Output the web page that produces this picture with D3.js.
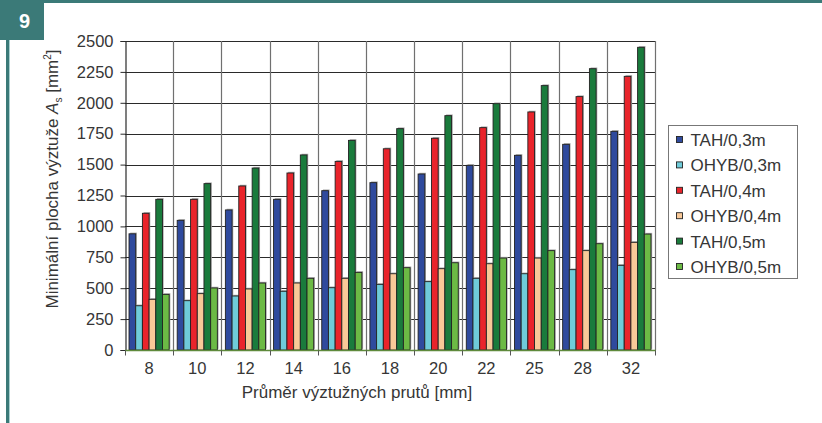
<!DOCTYPE html>
<html>
<head>
<meta charset="utf-8">
<script src="https://cdn.jsdelivr.net/npm/d3@7/dist/d3.min.js"></script>
<style>
  html, body { margin: 0; padding: 0; background: #fff; }
  svg { display: block; }
  text { font-family: "Liberation Sans", Arial, Helvetica, sans-serif; fill: #363636; }
</style>
</head>
<body>
<svg id="chart" width="822" height="423"></svg>
<script>
// Bar diameters (mm) along the x axis
const categories = ["8", "10", "12", "14", "16", "18", "20", "22", "25", "28", "32"];

// Series names as shown in the legend
const seriesNames = ["TAH/0,3m", "OHYB/0,3m", "TAH/0,4m", "OHYB/0,4m", "TAH/0,5m", "OHYB/0,5m"];

// Minimum reinforcement area A_s [mm²] per diameter
const tah03  = [940, 1049, 1133, 1219, 1289, 1354, 1424, 1494, 1575, 1664, 1769];
const ohyb03 = [358, 399, 437, 475, 504, 531, 553, 580, 617, 650, 685];
const tah04  = [1106, 1219, 1327, 1432, 1526, 1628, 1713, 1799, 1926, 2050, 2214];
const ohyb04 = [410, 456, 494, 542, 580, 617, 658, 698, 744, 804, 871];
const tah05  = [1219, 1346, 1472, 1578, 1696, 1791, 1896, 1993, 2139, 2276, 2449];
const ohyb05 = [450, 502, 542, 580, 628, 666, 706, 744, 804, 860, 938];

const yTicks = [0, 250, 500, 750, 1000, 1250, 1500, 1750, 2000, 2250, 2500];
const yTickLabels = ["0", "250", "500", "750", "1000", "1250", "1500", "1750", "2000", "2250", "2500"];

const seriesValues = [tah03, ohyb03, tah04, ohyb04, tah05, ohyb05];
const colors = ["#2f4a9d", "#6fcbd9", "#e9242b", "#f9c998", "#1a7b3c", "#6cba45"];

const svg = d3.select("#chart");
const W = 822, H = 423;
const teal = "#3b7a78";

// page frame: top band, left rule and figure number badge
svg.append("rect").attr("x", 0).attr("y", 0).attr("width", W).attr("height", 3).attr("fill", teal);
svg.append("rect").attr("x", 6).attr("y", 0).attr("width", 3).attr("height", H).attr("fill", teal);
svg.append("rect").attr("x", 9).attr("y", 40).attr("width", 1).attr("height", H - 40).attr("fill", "#a9d0cf");
svg.append("rect").attr("x", 0).attr("y", 0).attr("width", 44).attr("height", 40).attr("fill", teal);
svg.append("text").attr("x", 24.5).attr("y", 27.5).attr("text-anchor", "middle")
  .style("font-size", "20px").style("font-weight", "bold").style("fill", "#fff").text("9");

const plot = { left: 125, right: 655, top: 41, bottom: 350 };

const x0 = d3.scaleBand().domain(categories).range([plot.left, plot.right]).padding(0);
const x1 = d3.scaleBand().domain(d3.range(seriesNames.length))
  .range([0, x0.bandwidth()]).paddingInner(0).paddingOuter(0.6);
const y = d3.scaleLinear().domain([0, 2500]).range([plot.bottom, plot.top]);

// horizontal gridlines
svg.append("g").selectAll("line").data(yTicks.slice(1)).join("line")
  .attr("x1", plot.left).attr("x2", plot.right)
  .attr("y1", d => Math.round(y(d)) + 0.5).attr("y2", d => Math.round(y(d)) + 0.5)
  .attr("stroke", "#2a2a2a").attr("stroke-width", 1);

// vertical separators between diameter groups
const bounds = categories.slice(1).map(c => x0(c)).concat([plot.right]);
svg.append("g").selectAll("line").data(bounds).join("line")
  .attr("x1", d => Math.round(d) + 0.5).attr("x2", d => Math.round(d) + 0.5)
  .attr("y1", plot.top).attr("y2", plot.bottom)
  .attr("stroke", "#707070").attr("stroke-width", 1.2);

// grouped bars with a faint drop shadow
const rows = [];
categories.forEach((c, i) => seriesValues.forEach((vals, s) => rows.push({ c, s, v: vals[i] })));

svg.append("g").selectAll("rect").data(rows).join("rect")
  .attr("x", d => x0(d.c) + x1(d.s) + 1.2)
  .attr("y", d => y(d.v) - 1.2)
  .attr("width", x1.bandwidth())
  .attr("height", d => y(0) - y(d.v))
  .attr("fill", "#a8a8a8");

svg.append("g").selectAll("rect").data(rows).join("rect")
  .attr("x", d => x0(d.c) + x1(d.s))
  .attr("y", d => y(d.v))
  .attr("width", x1.bandwidth())
  .attr("height", d => y(0) - y(d.v))
  .attr("fill", d => colors[d.s])
  .attr("stroke", "#222").attr("stroke-width", 0.9);

// y axis
const yAxis = d3.axisLeft(y).tickValues(yTicks).tickFormat((d, i) => yTickLabels[i]).tickSize(5).tickPadding(7);
const gy = svg.append("g").attr("transform", `translate(${plot.left + 0.5},0)`).call(yAxis);
gy.select(".domain").attr("stroke", "#2a2a2a").attr("stroke-width", 1.2);
gy.selectAll(".tick line").attr("stroke", "#2a2a2a");
gy.selectAll(".tick text").style("font-size", "16.5px").style("fill", "#363636")
  .style("font-family", "'Liberation Sans', Arial, sans-serif");

// x axis: labels centred under groups, ticks on group boundaries
const gx = svg.append("g").attr("transform", `translate(0,${plot.bottom + 0.5})`);
gx.append("line").attr("x1", plot.left).attr("x2", plot.right + 1).attr("y1", 0).attr("y2", 0)
  .attr("stroke", "#5f8a3c").attr("stroke-width", 1.6);
gx.selectAll("line.tk").data([plot.left].concat(bounds)).join("line").attr("class", "tk")
  .attr("x1", d => Math.round(d) + 0.5).attr("x2", d => Math.round(d) + 0.5)
  .attr("y1", 0).attr("y2", 5).attr("stroke", "#555");
gx.selectAll("text").data(categories).join("text")
  .attr("x", d => x0(d) + x0.bandwidth() / 2).attr("y", 23)
  .attr("text-anchor", "middle").style("font-size", "16.5px").text(d => d);

// axis titles
svg.append("text").attr("x", 357).attr("y", 398).attr("text-anchor", "middle")
  .style("font-size", "17px").text("Průměr výztužných prutů [mm]");

const yt = svg.append("text").attr("transform", "translate(58,179) rotate(-90)")
  .attr("text-anchor", "middle").style("font-size", "17px");
yt.append("tspan").text("Minimální plocha výztuže ");
yt.append("tspan").style("font-style", "italic").text("A");
yt.append("tspan").attr("dy", 4).style("font-size", "10px").text("s");
yt.append("tspan").attr("dy", -4).text(" [mm");
yt.append("tspan").attr("dy", -7).style("font-size", "10px").text("2");
yt.append("tspan").attr("dy", 7).text("]");

// legend
const lg = svg.append("g");
lg.append("rect").attr("x", 668.5).attr("y", 125.5).attr("width", 129).attr("height", 153)
  .attr("fill", "#fff").attr("stroke", "#777").attr("stroke-width", 1);
const items = lg.selectAll("g.item").data(seriesNames).join("g").attr("class", "item")
  .attr("transform", (d, i) => `translate(0,${140 + i * 25.4})`);
items.append("rect").attr("x", 676.5).attr("y", -3.5).attr("width", 6).attr("height", 6)
  .attr("fill", (d, i) => colors[i]).attr("stroke", "#222").attr("stroke-width", 0.9);
items.append("text").attr("x", 690.5).attr("y", 6).style("font-size", "17px").text(d => d);
</script>
</body>
</html>
